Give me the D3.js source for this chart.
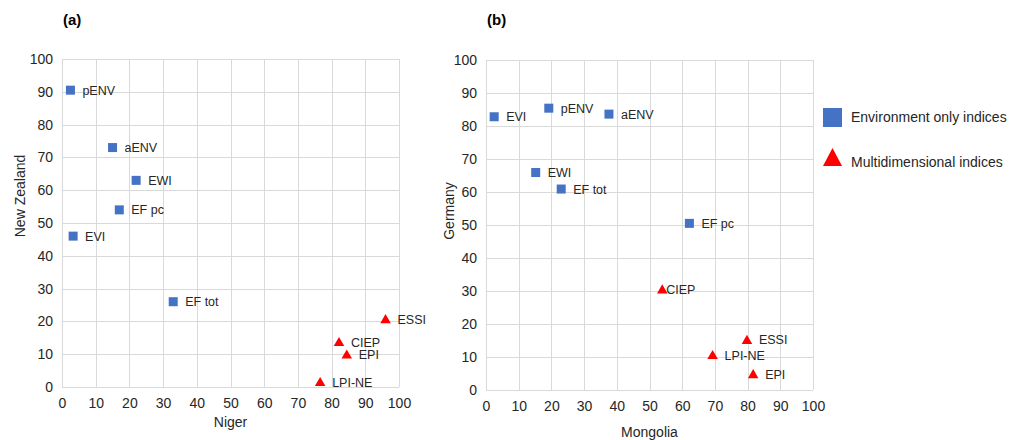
<!DOCTYPE html>
<html>
<head>
<meta charset="utf-8">
<script src="https://cdn.jsdelivr.net/npm/d3@7/dist/d3.min.js"></script>
<style>
  body { margin: 0; background: #fff; }
  svg { display: block; font-family: "Liberation Sans", Arial, sans-serif; }
</style>
</head>
<body>
<svg id="chart" width="1024" height="440"></svg>
<script>
// ---- Data ----
const indexNames = ["pENV", "aENV", "EWI", "EF pc", "EVI", "EF tot", "ESSI", "CIEP", "EPI", "LPI-NE"];
const indexType = ["env", "env", "env", "env", "env", "env", "multi", "multi", "multi", "multi"];
// Panel (a): Niger (x) vs New Zealand (y)
const nigerValues = [2.5, 15, 22, 17, 3.3, 33, 96, 82.2, 84.5, 76.6];
const newZealandValues = [90.5, 73, 63, 54, 46, 26, 20.7, 13.7, 9.9, 1.5];
// Panel (b): Mongolia (x) vs Germany (y)
const mongoliaValues = [19.2, 37.6, 15.2, 62.2, 2.5, 23, 79.8, 53.9, 81.7, 69.3];
const germanyValues = [85.4, 83.6, 65.9, 50.5, 82.8, 60.9, 15.2, 30.5, 4.8, 10.6];
const tickValues = [0, 10, 20, 30, 40, 50, 60, 70, 80, 90, 100];
const legendLabels = ["Environment only indices", "Multidimensional indices"];
const panelTitles = ["(a)", "(b)"];
const xTitles = ["Niger", "Mongolia"];
const yTitles = ["New Zealand", "Germany"];

// ---- Drawing ----
const svg = d3.select("#chart");
const BLUE = "#4472C4", RED = "#FF0000", GRID = "#d9d9d9", TXT = "#262626";

const panels = [
  { x: nigerValues, y: newZealandValues, left: 62, right: 399, top: 59, bottom: 387,
    title: panelTitles[0], xt: xTitles[0], yt: yTitles[0], xtY: 422, ytX: 20, ytY: 196,
    labelGap: {} },
  { x: mongoliaValues, y: germanyValues, left: 486, right: 813, top: 60, bottom: 390,
    title: panelTitles[1], xt: xTitles[1], yt: yTitles[1], xtY: 432, ytX: 449, ytY: 211,
    labelGap: { "CIEP": 4 } }
];

const triangle = d3.symbol().type(d3.symbolTriangle);

panels.forEach(p => {
  const xs = d3.scaleLinear().domain([0, 100]).range([p.left, p.right]);
  const ys = d3.scaleLinear().domain([0, 100]).range([p.bottom, p.top]);
  const g = svg.append("g");

  // gridlines
  g.append("g").selectAll("line.v").data(tickValues).join("line")
    .attr("x1", d => Math.round(xs(d)) + 0.5).attr("x2", d => Math.round(xs(d)) + 0.5)
    .attr("y1", p.top).attr("y2", p.bottom)
    .attr("stroke", GRID).attr("stroke-width", 1);
  g.append("g").selectAll("line.h").data(tickValues).join("line")
    .attr("y1", d => Math.round(ys(d)) + 0.5).attr("y2", d => Math.round(ys(d)) + 0.5)
    .attr("x1", p.left).attr("x2", p.right)
    .attr("stroke", GRID).attr("stroke-width", 1);

  // axes (labels only)
  const xAxis = d3.axisBottom(xs).tickValues(tickValues).tickSize(0).tickPadding(11);
  const yAxis = d3.axisLeft(ys).tickValues(tickValues).tickSize(0).tickPadding(9);
  const gx = g.append("g").attr("transform", `translate(0,${p.bottom})`).call(xAxis);
  const gy = g.append("g").attr("transform", `translate(${p.left},0)`).call(yAxis);
  [gx, gy].forEach(a => {
    a.select(".domain").remove();
    a.selectAll("text").attr("fill", TXT).attr("font-size", 14)
      .attr("font-family", "Liberation Sans, Arial, sans-serif");
  });

  // titles
  g.append("text").attr("x", p.left + 1).attr("y", 25).text(p.title)
    .attr("font-weight", "bold").attr("font-size", 15).attr("fill", "#000");
  g.append("text").attr("x", (p.left + p.right) / 2).attr("y", p.xtY + 5)
    .attr("text-anchor", "middle").attr("font-size", 14).attr("fill", TXT).text(p.xt);
  g.append("text").attr("transform", `translate(${p.ytX + 5},${p.ytY}) rotate(-90)`)
    .attr("text-anchor", "middle").attr("font-size", 14).attr("fill", TXT).text(p.yt);

  // points
  const pts = indexNames.map((n, i) => ({ name: n, type: indexType[i], x: p.x[i], y: p.y[i] }));
  const mg = g.append("g");
  mg.selectAll("rect").data(pts.filter(d => d.type === "env")).join("rect")
    .attr("x", d => xs(d.x) - 4.5).attr("y", d => ys(d.y) - 4.5)
    .attr("width", 9).attr("height", 9).attr("fill", BLUE);
  mg.selectAll("path").data(pts.filter(d => d.type === "multi")).join("path")
    .attr("d", triangle.size(48))
    .attr("transform", d => `translate(${xs(d.x)},${ys(d.y) + 1})`)
    .attr("fill", RED);
  mg.selectAll("text").data(pts).join("text")
    .attr("x", d => xs(d.x) + (p.labelGap[d.name] !== undefined ? p.labelGap[d.name] : 12))
    .attr("y", d => ys(d.y) + 4.5)
    .attr("font-size", 12.5).attr("fill", TXT).text(d => d.name);
});

// legend
const lg = svg.append("g");
lg.append("rect").attr("x", 823).attr("y", 108).attr("width", 19).attr("height", 19).attr("fill", BLUE);
lg.append("path").attr("d", "M832.5,148 L842,166 L823,166 Z").attr("fill", RED);
lg.selectAll("text").data(legendLabels).join("text")
  .attr("x", 851).attr("y", (d, i) => 122 + i * 45)
  .attr("font-size", 14).attr("fill", TXT).text(d => d);
</script>
</body>
</html>
